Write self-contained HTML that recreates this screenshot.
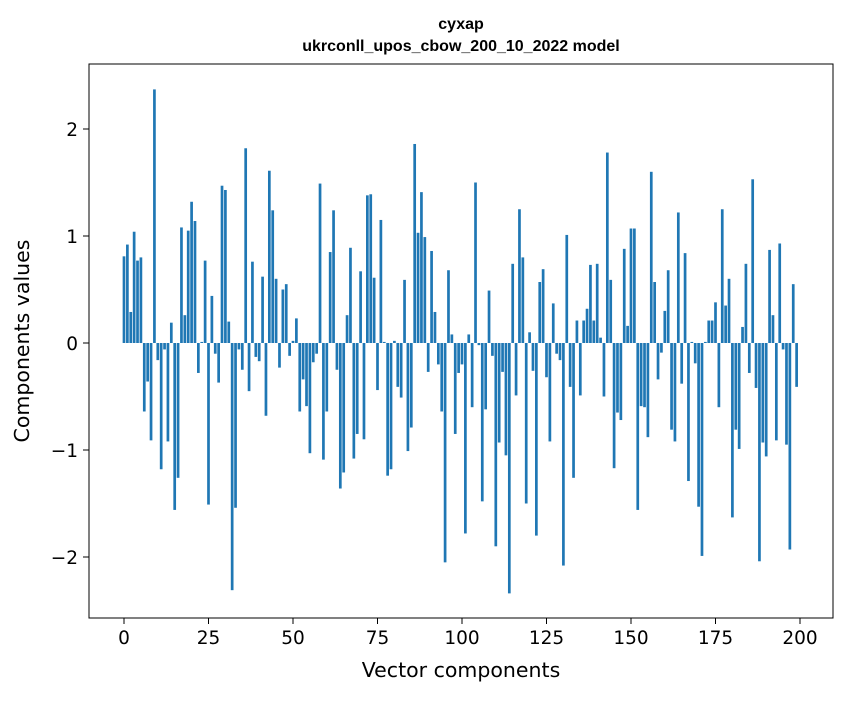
<!DOCTYPE html>
<html><head><meta charset="utf-8"><style>
body{margin:0;background:#fff;font-family:"Liberation Sans","DejaVu Sans",sans-serif;}
svg text{font-family:"DejaVu Sans","Liberation Sans",sans-serif;}
</style></head><body>
<svg id="chart" width="847" height="696" viewBox="0 0 847 696" xmlns="http://www.w3.org/2000/svg">
<rect width="847" height="696" fill="#fff"/>
<text x="461" y="29" text-anchor="middle" font-size="16" font-weight="bold" style="font-family:'Liberation Sans',sans-serif">сухар</text>
<text x="461" y="51" text-anchor="middle" font-size="16" font-weight="bold" style="font-family:'Liberation Sans',sans-serif">ukrconll_upos_cbow_200_10_2022 model</text>
<g id="bars"></g>
<g id="axes"></g>
<rect x="89" y="64" width="744" height="554" fill="none" stroke="#000" stroke-width="1"/>
<text x="461" y="677" text-anchor="middle" font-size="20.5">Vector components</text>
<text transform="translate(29,341) rotate(-90)" text-anchor="middle" font-size="20.5">Components values</text>
</svg>
<script>
const values = [0.81,0.92,0.29,1.04,0.77,0.80,-0.64,-0.36,-0.91,2.37,-0.16,-1.18,-0.06,-0.92,0.19,-1.56,-1.26,1.08,0.26,1.05,1.32,1.14,-0.28,0.01,0.77,-1.51,0.44,-0.10,-0.37,1.47,1.43,0.20,-2.31,-1.54,-0.06,-0.25,1.82,-0.45,0.76,-0.13,-0.17,0.62,-0.68,1.61,1.24,0.60,-0.23,0.50,0.55,-0.12,
0.02,0.23,-0.64,-0.34,-0.59,-1.03,-0.18,-0.10,1.49,-1.09,-0.64,0.85,1.24,-0.25,-1.36,-1.21,0.26,0.89,-1.08,-0.85,0.67,-0.90,1.38,1.39,0.61,-0.44,1.15,0.01,-1.24,-1.18,0.02,-0.41,-0.51,0.59,-1.01,-0.79,
1.86,1.03,1.41,0.99,-0.27,0.86,0.29,-0.20,-0.64,-2.05,0.68,0.08,-0.85,-0.28,-0.20,-1.78,0.08,-0.60,1.50,-0.02,-1.48,-0.62,0.49,-0.12,-1.90,-0.93,-0.27,-1.05,-2.34,0.74,-0.49,1.25,0.80,-1.50,0.10,-0.26,-1.80,0.57,0.69,-0.32,-0.92,0.37,-0.10,-0.16,
-2.08,1.01,-0.41,-1.26,0.21,-0.49,0.21,0.32,0.73,0.21,0.74,0.05,-0.50,1.78,0.59,-1.17,-0.65,-0.72,0.88,0.16,1.07,1.07,-1.56,-0.59,-0.60,-0.88,1.60,0.57,-0.34,-0.09,0.30,0.68,-0.81,-0.92,1.22,-0.38,0.84,-1.29,0.01,-0.19,-1.53,-1.99,0.01,0.21,0.21,0.38,-0.60,1.25,0.35,0.60,-1.63,-0.81,-0.99,0.15,0.74,-0.28,1.53,-0.42,-2.04,-0.93,-1.06,0.87,0.26,-0.91,0.93,-0.06,-0.95,-1.93,0.55,-0.41];
const xTicks = [0,25,50,75,100,125,150,175,200];
const yTicks = [-2,-1,0,1,2];
const yTickLabels = ["\u22122","\u22121","0","1","2"];
const NS="http://www.w3.org/2000/svg";
function xs(v){return 124+v*3.38;}
function ys(v){return 343-v*107;}
const bars=document.getElementById('bars');
values.forEach((v,i)=>{
  const r=document.createElementNS(NS,'rect');
  
  
  const w=0.8*3.38;
  r.setAttribute('x',xs(i)-w/2);
  r.setAttribute('width',w);
  r.setAttribute('y',Math.min(ys(v),ys(0)));
  r.setAttribute('height',Math.abs(ys(v)-ys(0)));
  r.setAttribute('fill','#1f77b4');
  bars.appendChild(r);
});
const axes=document.getElementById('axes');
xTicks.forEach(t=>{
  const l=document.createElementNS(NS,'line');
  
  
  l.setAttribute('x1',xs(t));l.setAttribute('x2',xs(t));
  l.setAttribute('y1',618);l.setAttribute('y2',624);
  l.setAttribute('stroke','#000');
  axes.appendChild(l);
  const tx=document.createElementNS(NS,'text');
  
  
  tx.setAttribute('x',xs(t));tx.setAttribute('y',644);
  tx.setAttribute('text-anchor','middle');tx.setAttribute('font-size','18.5');
  tx.textContent=t;
  axes.appendChild(tx);
});
yTicks.forEach((t,i)=>{
  const l=document.createElementNS(NS,'line');
  
  
  l.setAttribute('x1',83);l.setAttribute('x2',89);
  l.setAttribute('y1',ys(t));l.setAttribute('y2',ys(t));
  l.setAttribute('stroke','#000');
  axes.appendChild(l);
  const tx=document.createElementNS(NS,'text');
  
  
  tx.setAttribute('x',78);tx.setAttribute('y',ys(t)+7);
  tx.setAttribute('text-anchor','end');tx.setAttribute('font-size','18.5');
  tx.textContent=yTickLabels[i];
  axes.appendChild(tx);
});
</script>
</body></html>
